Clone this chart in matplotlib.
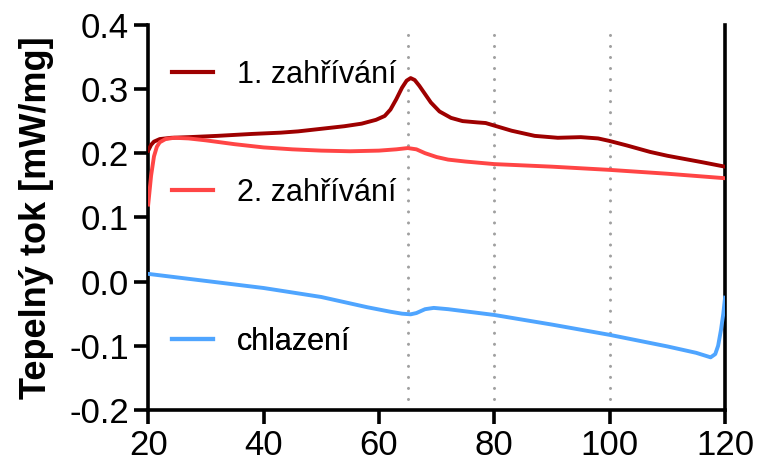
import matplotlib.pyplot as plt

# 1. zahrivani
heat1_t = [20, 20.5, 21, 22, 24, 27, 32, 38, 43, 46, 50, 54, 57, 59.5, 61, 62, 63, 64,
           64.8, 65.5, 66.2, 67, 68, 69, 70.5, 72.5, 74.5, 77, 78.5, 80, 83, 87, 91, 95,
           98, 100, 103, 107, 110, 113, 116, 120]
heat1_q = [0.204, 0.213, 0.218, 0.222, 0.224, 0.225, 0.227, 0.230, 0.232, 0.234, 0.238,
           0.242, 0.246, 0.252, 0.258, 0.268, 0.284, 0.302, 0.313, 0.317, 0.314, 0.305,
           0.292, 0.279, 0.265, 0.255, 0.250, 0.248, 0.247, 0.243, 0.235, 0.227, 0.224,
           0.225, 0.223, 0.219, 0.212, 0.202, 0.196, 0.191, 0.186, 0.179]

# 2. zahrivani
heat2_t = [20, 20.5, 21, 21.5, 22, 23, 24.5, 27, 30, 35, 40, 45, 50, 55, 60, 63, 65,
           66.5, 68, 70, 72, 75, 80, 90, 100, 110, 120]
heat2_q = [0.120, 0.165, 0.195, 0.210, 0.217, 0.222, 0.224, 0.223, 0.220, 0.214, 0.209,
           0.206, 0.204, 0.203, 0.204, 0.206, 0.208, 0.206, 0.200, 0.194, 0.190, 0.187,
           0.183, 0.179, 0.174, 0.168, 0.161]

# chlazeni
cool_t = [20, 30, 40, 50, 58, 62, 64, 65.5, 66.5, 68, 69.5, 72, 80, 90, 100, 110, 115,
          117.5, 118.3, 118.8, 119.3, 119.7, 120]
cool_q = [0.012, 0.001, -0.010, -0.024, -0.040, -0.047, -0.050, -0.051, -0.049, -0.043,
          -0.041, -0.043, -0.052, -0.067, -0.083, -0.101, -0.111, -0.118, -0.113, -0.100,
          -0.075, -0.050, -0.025]

marker_t = [65, 80, 100]

labels = ["1. zahřívání", "2. zahřívání", "chlazení"]
colors = ["#9E0000", "#FF4545", "#4FA5FF"]
legend_y = [0.870, 0.564, 0.177]

plt.rcParams["font.family"] = ["Liberation Sans", "DejaVu Sans"]

fig, ax = plt.subplots(figsize=(7.6, 4.68), dpi=100)
fig.subplots_adjust(left=0.195, right=0.954, bottom=0.124, top=0.947)

for t in marker_t:
    ax.axvline(t, color="#A0A0A0", lw=2.2, linestyle=(0, (0.01, 3.6)),
               dash_capstyle="round", zorder=1)

lines = []
for t, q, c in zip([heat1_t, heat2_t, cool_t], [heat1_q, heat2_q, cool_q], colors):
    (ln,) = ax.plot(t, q, color=c, lw=2.8, zorder=3)
    lines.append(ln)

for ln, lab, y in zip(lines, labels, legend_y):
    leg = ax.legend([ln], [lab], loc="center left", bbox_to_anchor=(0.042, y),
                    frameon=False, fontsize=22, borderpad=0, borderaxespad=0,
                    handlelength=1.34, handletextpad=0.78)
    for h in leg.legend_handles:
        h.set_linewidth(3.0)
    ax.add_artist(leg)

ax.set_xlim(20, 120)
ax.set_ylim(-0.2, 0.4)
ax.set_xticks([20, 40, 60, 80, 100, 120])
ax.set_yticks([-0.2, -0.1, 0.0, 0.1, 0.2, 0.3, 0.4])
ax.set_yticklabels(["-0.2", "-0.1", "0.0", "0.1", "0.2", "0.3", "0.4"])
ax.tick_params(labelsize=25, width=2.6, length=10, pad=4)
ax.spines["top"].set_visible(False)
for s in ["left", "right", "bottom"]:
    ax.spines[s].set_linewidth(2.6)

ax.set_ylabel("Tepelný tok [mW/mg]", fontsize=26, fontweight="bold", labelpad=11)

fig.savefig("out.png", dpi=100)
